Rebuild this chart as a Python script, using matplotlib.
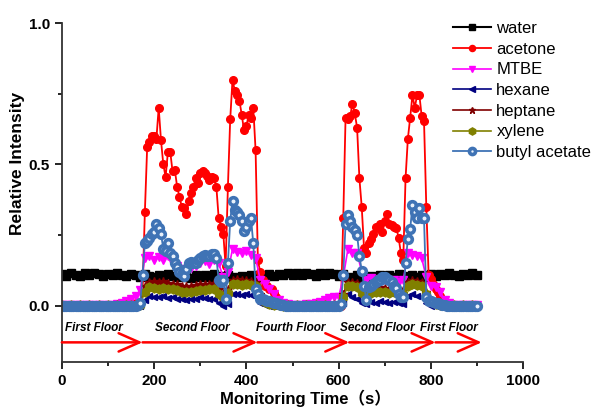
import numpy as np
import matplotlib
matplotlib.use("Agg")
from matplotlib import pyplot as plt
from matplotlib.ticker import MultipleLocator

plt.rcParams['font.family'] = ['Liberation Sans', 'Noto Sans CJK SC', 'DejaVu Sans']

# sampling grids (s)
time5 = np.arange(0, 905, 5)     # acetone, butyl acetate
time10 = np.arange(0, 905, 10)   # the other gases

acetone = [
    0, 0, 0, 0, 0, 0, 0, 0, 0, 0,
    0, 0, 0, 0, 0, 0, 0, 0, 0, 0,
    0, 0, 0, 0, 0, 0, 0, 0, .002, .004,
    .005, .006, .008, .01, .012, .05, .33, .56, .58, .60,
    .60, .59, .70, .585, .50, .455, .545, .545, .475, .48,
    .42, .385, .35, .345, .325, .37, .40, .42, .45, .435,
    .47, .475, .47, .46, .445, .455, .45, .42, .31, .28,
    .255, .14, .42, .66, .80, .76, .745, .725, .675, .62,
    .635, .675, .665, .70, .55, .16, .12, .09, .07, .07,
    .06, .06, .045, .03, .015, .008, .004, .002, 0, 0,
    0, 0, 0, 0, 0, 0, 0, 0, 0, 0,
    0, 0, 0, 0, 0, 0, 0, 0, 0, 0,
    0, 0, .31, .665, .66, .67, .715, .68, .63, .45,
    .35, .205, .185, .22, .235, .255, .28, .275, .29, .26,
    .30, .325, .29, .285, .28, .275, .24, .185, .16, .45,
    .59, .665, .745, .70, .745, .745, .67, .655, .35, .11,
    .095, .075, .06, .05, .035, .02, .01, .005, 0, 0,
    0, 0, 0, 0, 0, 0, 0, 0, 0, 0,
    0,
]

butyl_acetate = [
    -.002, 0, -.003, -.001, -.002, 0, -.003, -.001, -.002, 0,
    -.003, -.001, -.002, 0, -.003, -.001, -.002, 0, -.003, -.001,
    -.002, 0, -.003, -.001, -.002, 0, -.003, -.001, -.002, 0,
    -.003, -.001, 0, .003, .008, .11, .22, .23, .24, .255,
    .26, .29, .275, .255, .20, .195, .22, .185, .175, .15,
    .135, .12, .113, .105, .13, .15, .155, .15, .15, .16,
    .17, .177, .18, .177, .175, .184, .184, .17, .09, .085,
    .09, .025, .15, .30, .37, .34, .33, .32, .30, .265,
    .28, .30, .31, .22, .06, .04, .025, .022, .02, .018,
    .015, .012, .01, .008, .005, .003, .001, 0, -.002, 0,
    -.003, -.001, -.002, 0, -.003, -.001, -.002, 0, -.003, -.001,
    -.002, 0, -.003, -.001, -.002, 0, -.003, -.001, -.002, 0,
    -.002, .005, .11, .29, .32, .30, .277, .266, .25, .177,
    .124, .07, .02, .065, .07, .075, .085, .089, .09, .10,
    .10, .095, .09, .085, .07, .064, .04, .03, .03, .15,
    .237, .27, .355, .33, .31, .345, .31, .31, .03, .018,
    .015, .012, .01, .008, .005, .003, .001, 0, -.002, 0,
    -.003, -.001, -.002, 0, -.003, -.001, -.002, 0, -.003, -.001,
    -.002,
]

water = [
    .112, .106, .116, .110, .104, .114, .108, .117, .111, .105,
    .113, .107, .115, .110, .104, .113, .108, .103, .111, .105,
    .101, .109, .103, .111, .105, .100, .109, .103, .098, .107,
    .102, .109, .103, .111, .104, .099, .108, .102, .097, .106,
    .100, .107, .101, .109, .103, .111, .105, .113, .107, .115,
    .109, .116, .110, .117, .112, .106, .115, .109, .116, .111,
    .105, .113, .103, .099, .107, .101, .097, .105, .099, .107,
    .101, .109, .103, .111, .105, .100, .108, .102, .109, .103,
    .111, .105, .113, .107, .115, .109, .105, .113, .107, .114,
    .109,
]

mtbe = [
    .003, .002, .004, .003, .002, .004, .003, .002, .004, .003,
    .004, .003, .005, .008, .015, .022, .035, .055, .17, .175,
    .16, .172, .162, .175, .148, .14, .128, .122, .132, .14,
    .152, .158, .148, .162, .15, .10, .12, .20, .19, .185,
    .195, .178, .17, .09, .075, .06, .04, .02, .01, .005,
    .004, .003, .004, .005, .006, .008, .012, .02, .028, .03,
    .03, .10, .20, .188, .185, .12, .09, .097, .088, .095,
    .09, .083, .092, .085, .09, .185, .178, .175, .168, .10,
    .07, .065, .05, .02, .008, .004, .003, .004, .003, .003,
    .003,
]

hexane = [
    -.003, -.002, -.004, -.003, -.002, -.004, -.003, -.002, -.004, -.003,
    -.002, -.003, -.004, -.002, -.003, -.002, -.003, 0, .02, .035,
    .032, .03, .034, .028, .03, .025, .022, .02, .022, .025,
    .03, .028, .025, .022, .01, 0, .005, .04, .042, .038,
    .04, .036, .03, .01, .003, -.002, -.003, -.003, -.002, -.003,
    -.003, -.002, -.004, -.003, -.002, -.003, -.004, -.002, -.003, -.002,
    -.002, .01, .04, .03, .025, .01, .005, .012, .01, .015,
    .012, .01, .014, .01, .005, .035, .04, .035, .03, .01,
    0, -.002, -.003, -.002, -.003, -.002, -.003, -.002, -.003, -.002,
    -.003,
]

heptane = [
    0, .001, 0, .001, 0, .001, 0, .001, 0, .001,
    0, .001, 0, .001, 0, .001, .002, .004, .07, .085,
    .088, .084, .086, .08, .078, .075, .07, .068, .07, .072,
    .076, .075, .078, .08, .06, .045, .06, .09, .095, .09,
    .092, .088, .085, .04, .015, .006, .003, .001, 0, .001,
    0, .001, 0, .001, 0, .001, 0, .001, 0, .001,
    0, .04, .085, .082, .08, .06, .055, .06, .062, .065,
    .063, .06, .062, .058, .055, .085, .09, .088, .085, .05,
    .02, .006, .002, .001, 0, .001, 0, .001, 0, .001,
    0,
]

xylene = [
    .001, 0, .001, 0, .001, 0, .001, 0, .001, 0,
    .001, 0, .001, 0, .001, .001, .002, .003, .05, .065,
    .062, .06, .063, .058, .06, .055, .05, .048, .05, .053,
    .056, .055, .058, .06, .04, .03, .045, .075, .078, .074,
    .076, .072, .07, .03, .012, .005, .002, .001, 0, .001,
    0, .001, 0, .001, 0, .001, 0, .001, 0, .001,
    0, .03, .07, .068, .065, .045, .04, .045, .048, .05,
    .048, .045, .047, .044, .04, .07, .075, .072, .07, .04,
    .015, .005, .002, .001, 0, .001, 0, .001, 0, .001,
    0,
]

floor_names = ["First Floor", "Second Floor", "Fourth Floor", "Second Floor", "First Floor"]
floor_centers = [70, 282, 497, 685, 838]
arrow_tips = [175, 424, 623, 810, 910]

fig = plt.figure(figsize=(6, 4.12), dpi=100)
ax = fig.add_axes([0.103, 0.121, 0.769, 0.823])

ax.plot(time10, water, color="black", marker="s", ms=5.5, lw=1.5, label="water")
ax.plot(time5, acetone, color="red", marker="o", ms=5.5, lw=1.3, label="acetone")
ax.plot(time10, mtbe, color="magenta", marker="v", ms=6, lw=1.2, label="MTBE")
ax.plot(time10, hexane, color="#000080", marker="<", ms=5, lw=1.2, label="hexane")
ax.plot(time10, heptane, color="#800000", marker="*", ms=6, lw=1.2, label="heptane")
ax.plot(time10, xylene, color="#808000", marker="h", ms=6.5, lw=1.2, label="xylene")
ax.plot(time5, butyl_acetate, color="#3f73b5", marker="o", ms=5.5, lw=1.3,
        mfc="#e8f0fa", mec="#3f73b5", mew=2.6, label="butyl acetate")

# floor route arrows
start = 0
for tip in arrow_tips:
    ax.annotate("", xy=(tip, -0.13), xytext=(start, -0.13),
                arrowprops=dict(arrowstyle="->,head_length=0.75,head_width=0.33",
                                color="red", lw=1.8, shrinkA=0, shrinkB=0,
                                mutation_scale=20))
    start = tip
for name, xc in zip(floor_names, floor_centers):
    ax.text(xc, -0.078, name, ha="center", va="center", fontsize=8.5,
            fontweight="bold", fontstyle="italic")

ax.set_xlim(0, 1000)
ax.set_ylim(-0.2, 1.0)
ax.set_xticks([0, 200, 400, 600, 800, 1000])
ax.set_yticks([0.0, 0.5, 1.0])
ax.xaxis.set_minor_locator(MultipleLocator(100))
ax.yaxis.set_minor_locator(MultipleLocator(0.25))
ax.tick_params(which="major", direction="out", length=5, width=1.2, labelsize=11)
ax.tick_params(which="minor", direction="out", length=3, width=1.2)
for lab in ax.get_xticklabels() + ax.get_yticklabels():
    lab.set_fontweight("bold")
for s in ["top", "right"]:
    ax.spines[s].set_visible(False)
for s in ["left", "bottom"]:
    ax.spines[s].set_linewidth(1.3)
    ax.spines[s].set_color("#333333")

ax.set_xlabel("Monitoring Time（s）", fontsize=12, fontweight="bold")
ax.xaxis.label.set_verticalalignment("center")
ax.xaxis.set_label_coords(0.529, -0.106)
ax.set_ylabel("Relative Intensity", fontsize=12.5, fontweight="bold")
ax.yaxis.label.set_verticalalignment("center")
ax.yaxis.set_label_coords(-0.095, 0.587)

fig.legend(loc="upper left", bbox_to_anchor=(0.755, 0.949), frameon=False,
           fontsize=12, handlelength=2.3, handletextpad=0.3, markerscale=0.8,
           labelspacing=0.34, borderpad=0, borderaxespad=0)

fig.savefig("out.png", dpi=100)
